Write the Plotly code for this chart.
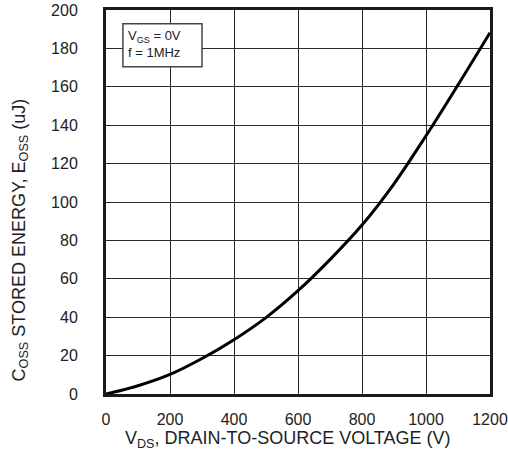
import plotly.graph_objects as go

# Output capacitance stored energy vs. drain-to-source voltage
vds = [0, 100, 200, 300, 400, 500, 600, 700, 800, 900, 1000, 1100, 1200]
eoss = [0, 4.3, 10.2, 18.5, 28.3, 39.8, 53.8, 70, 88, 109.5, 134.5, 161, 188.2]

x_ticks = [0, 200, 400, 600, 800, 1000, 1200]
y_ticks = [0, 20, 40, 60, 80, 100, 120, 140, 160, 180, 200]

FONT = "Liberation Sans, Arial, sans-serif"
TXT = "#222"

fig = go.Figure()
fig.add_trace(go.Scatter(
    x=vds, y=eoss, mode="lines",
    line=dict(color="black", width=3, shape="spline", smoothing=1.0),
    hoverinfo="skip", showlegend=False,
))

axis_common = dict(
    showline=True, linecolor="#1a1a1a", linewidth=3, mirror=True,
    showgrid=True, gridcolor="#2a2a2a", gridwidth=1,
    zeroline=False, ticks="", fixedrange=True, automargin=False,
    ticklabeloverflow="allow",
    tickfont=dict(family=FONT, size=16, color=TXT),
)

fig.update_xaxes(range=[0, 1200], tickvals=x_ticks,
                 ticklabelstandoff=9, **axis_common)
fig.update_yaxes(range=[0, 200], tickvals=y_ticks,
                 ticklabelstandoff=22, **axis_common)

# Axis titles
fig.add_annotation(
    xref="paper", yref="paper", x=0.474, y=0, yshift=-32,
    xanchor="center", yanchor="top", showarrow=False,
    text="V<sub>DS</sub>, DRAIN-TO-SOURCE VOLTAGE (V)",
    font=dict(family=FONT, size=18, color=TXT),
)
fig.add_annotation(
    xref="paper", yref="paper", x=0, xshift=-86, y=0.40,
    xanchor="center", yanchor="middle", showarrow=False, textangle=-90,
    text="C<sub>OSS</sub> STORED ENERGY, E<sub>OSS</sub> (uJ)",
    font=dict(family=FONT, size=18, color=TXT),
)

# Test conditions box
fig.add_shape(
    type="rect", xref="paper", yref="paper",
    x0=0.044, x1=0.25, y0=0.852, y1=0.964,
    line=dict(color="#444", width=1.5), fillcolor="white", layer="above",
)
fig.add_annotation(
    xref="paper", yref="paper", x=0.052, y=0.958,
    xanchor="left", yanchor="top", showarrow=False, align="left",
    text="V<sub>GS</sub> = 0V<br>f = 1MHz",
    font=dict(family=FONT, size=13, color=TXT),
)

fig.update_layout(
    width=508, height=453,
    margin=dict(l=106, r=18, t=10, b=59),
    paper_bgcolor="white", plot_bgcolor="white",
    showlegend=False,
)

fig.write_html("out.html")
